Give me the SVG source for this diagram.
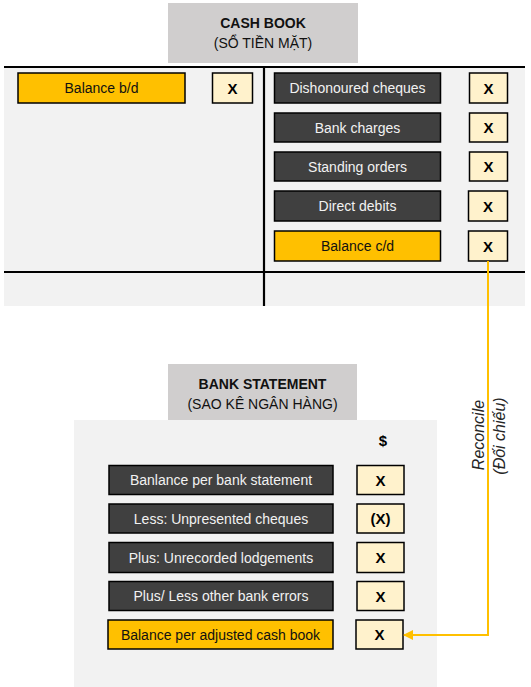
<svg xmlns="http://www.w3.org/2000/svg" width="531" height="687" viewBox="0 0 531 687">
<defs>
<marker id="arr" markerWidth="10" markerHeight="10" refX="9" refY="5" orient="auto" markerUnits="userSpaceOnUse">
<path d="M0,0 L10,5 L0,10 Z" fill="#FFC000"/>
</marker>
</defs>
<style>
text{font-family:"Liberation Sans",Arial,sans-serif;}
.title{fill:#D0CECE;}
.tt{font-size:14px;font-weight:bold;fill:#111;text-anchor:middle;}
.ts{font-size:14px;fill:#111;text-anchor:middle;}
.panel{fill:#F2F2F2;}
.dark{fill:#404040;stroke:#000;stroke-width:1.5;}
.gold{fill:#FFC000;stroke:#000;stroke-width:1.5;}
.val{fill:#FFF2CC;stroke:#000;stroke-width:1.5;}
.lw{font-size:14px;fill:#F2F2F2;text-anchor:middle;}
.lb{font-size:14px;fill:#111;text-anchor:middle;}
.x{font-size:15px;font-weight:bold;fill:#000;text-anchor:middle;}
.rule{stroke:#000;stroke-width:2.2;}
.conn{fill:none;stroke:#FFC000;stroke-width:2;}
.rec{font-size:16px;font-style:italic;fill:#262626;text-anchor:middle;}
</style>

<g id="cashbook">
<rect class="title" x="168" y="3" width="190" height="60"/>
<text class="tt" x="263" y="28">CASH BOOK</text>
<text class="ts" x="263" y="48">(SỔ TIỀN MẶT)</text>
<rect class="panel" x="4" y="66" width="521" height="240"/>
<line class="rule" x1="4" y1="67" x2="525" y2="67"/>
<line class="rule" x1="4" y1="272" x2="525" y2="272"/>
<line class="rule" x1="264" y1="67" x2="264" y2="306"/>
</g>

<g id="balance-bd">
<rect class="gold" x="18" y="73" width="167" height="30"/>
<text class="lb" x="101.5" y="93">Balance b/d</text>
<rect class="val" x="212.5" y="73" width="40" height="30"/>
<text class="x" x="232.5" y="93.5">X</text>
</g>

<g id="dishonoured">
<rect class="dark" x="274.5" y="73" width="166" height="30"/>
<text class="lw" x="357.5" y="93">Dishonoured cheques</text>
<rect class="val" x="469.5" y="73" width="38" height="30"/>
<text class="x" x="488.5" y="93.5">X</text>
</g>

<g id="bank-charges">
<rect class="dark" x="274.5" y="113" width="166" height="29"/>
<text class="lw" x="357.5" y="132.5">Bank charges</text>
<rect class="val" x="469.5" y="113" width="38" height="29"/>
<text class="x" x="488.5" y="133">X</text>
</g>

<g id="standing-orders">
<rect class="dark" x="274.5" y="152" width="166" height="29"/>
<text class="lw" x="357.5" y="171.5">Standing orders</text>
<rect class="val" x="469.5" y="152" width="38" height="29"/>
<text class="x" x="488.5" y="172">X</text>
</g>

<g id="direct-debits">
<rect class="dark" x="274.5" y="191" width="166" height="30"/>
<text class="lw" x="357.5" y="211">Direct debits</text>
<rect class="val" x="468.5" y="191" width="39" height="30"/>
<text class="x" x="488" y="211.5">X</text>
</g>

<g id="balance-cd">
<rect class="gold" x="274.5" y="231" width="166" height="30"/>
<text class="lb" x="357.5" y="251">Balance c/d</text>
<rect class="val" x="468.5" y="231" width="39" height="30"/>
<text class="x" x="488" y="251.5">X</text>
</g>

<g id="bankstatement">
<rect class="title" x="168" y="364" width="189" height="56"/>
<text class="tt" x="262.5" y="389">BANK STATEMENT</text>
<text class="ts" x="262.5" y="409">(SAO KÊ NGÂN HÀNG)</text>
<rect class="panel" x="74" y="420" width="363" height="267"/>
<text class="x" x="383" y="446">$</text>
</g>

<g id="per-bank">
<rect class="dark" x="109" y="465.5" width="224" height="29"/>
<text class="lw" x="221" y="485">Banlance per bank statement</text>
<rect class="val" x="357" y="465.5" width="47" height="29"/>
<text class="x" x="380.5" y="485.5">X</text>
</g>

<g id="unpresented">
<rect class="dark" x="109" y="504" width="224" height="29"/>
<text class="lw" x="221" y="523.5">Less: Unpresented cheques</text>
<rect class="val" x="357" y="504" width="47" height="29"/>
<text class="x" x="380.5" y="524">(X)</text>
</g>

<g id="unrecorded">
<rect class="dark" x="109" y="542.5" width="224" height="30"/>
<text class="lw" x="221" y="562.5">Plus: Unrecorded lodgements</text>
<rect class="val" x="357" y="542.5" width="47" height="30"/>
<text class="x" x="380.5" y="563">X</text>
</g>

<g id="other-errors">
<rect class="dark" x="109" y="581.5" width="224" height="29"/>
<text class="lw" x="221" y="601">Plus/ Less other bank errors</text>
<rect class="val" x="357" y="581.5" width="47" height="29"/>
<text class="x" x="380.5" y="601.5">X</text>
</g>

<g id="adjusted">
<rect class="gold" x="108" y="620" width="225" height="29"/>
<text class="lb" x="220.5" y="639.5">Balance per adjusted cash book</text>
<rect class="val" x="356" y="620" width="47" height="29"/>
<text class="x" x="379.5" y="640">X</text>
</g>

<g id="connectors">
<path class="conn" d="M488,261 L488,635 L404,635" marker-end="url(#arr)"/>
<text class="rec" transform="translate(484,435) rotate(-90)">Reconcile</text>
<text class="rec" transform="translate(505,436) rotate(-90)">(Đối chiếu)</text>
</g>
</svg>
